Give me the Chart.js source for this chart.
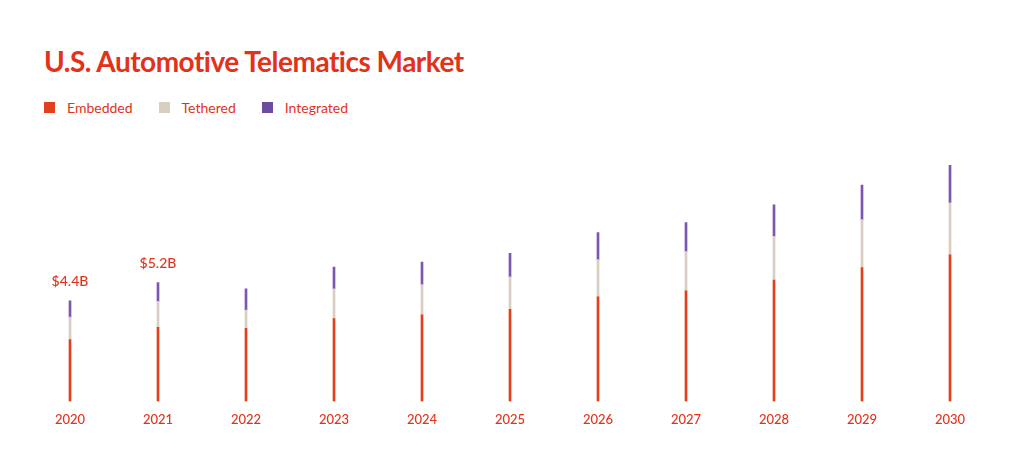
<!DOCTYPE html>
<html>
<head>
<meta charset="utf-8">
<script src="https://cdn.jsdelivr.net/npm/chart.js@4"></script>
<style>
  body { margin: 0; background: #fff; font-family: Lato, "Open Sans", sans-serif; }
  .title { position: absolute; left: 44px; top: 44px; margin: 0; font-size: 28px; font-weight: 700; color: #e2321a; letter-spacing: -0.5px; }
  .legend { position: absolute; left: 44px; top: 99px; display: flex; gap: 26px; font-size: 14px; color: #e2321a; }
  .legend span { display: flex; align-items: center; }
  .legend i { display: inline-block; width: 11px; height: 11px; margin-right: 12px; }
  .chart-container { position: absolute; left: 0; top: 100px; width: 1019px; height: 331px; }
</style>
</head>
<body>
<h1 class="title">U.S. Automotive Telematics Market</h1>
<div class="legend">
  <span><i style="background:#e2401c"></i>Embedded</span>
  <span><i style="background:#d8cfc2"></i>Tethered</span>
  <span><i style="background:#6d4b9e"></i>Integrated</span>
</div>
<div class="chart-container"><canvas id="barChart"></canvas></div>
<script>
const years = ['2020', '2021', '2022', '2023', '2024', '2025', '2026', '2027', '2028', '2029', '2030'];
const embedded = [2.71, 3.24, 3.2, 3.62, 3.79, 4.03, 4.57, 4.84, 5.31, 5.86, 6.41];
const tethered = [0.98, 1.14, 0.8, 1.31, 1.32, 1.42, 1.63, 1.72, 1.91, 2.09, 2.28];
const integrated = [0.71, 0.82, 0.93, 0.95, 0.99, 1.03, 1.19, 1.26, 1.38, 1.51, 1.64];
const totalLabels = ['$4.4B', '$5.2B'];

const totalLabelPlugin = {
    id: 'totalLabels',
    afterDatasetsDraw(chart) {
        const ctx = chart.ctx;
        const meta = chart.getDatasetMeta(2);
        ctx.save();
        ctx.fillStyle = '#e2321a';
        ctx.font = '500 14px Lato';
        ctx.textAlign = 'center';
        ctx.textBaseline = 'bottom';
        totalLabels.forEach(function (label, i) {
            const bar = meta.data[i];
            ctx.fillText(label, bar.x, bar.y - 12);
        });
        ctx.restore();
    }
};

const ctx = document.getElementById('barChart').getContext('2d');
const barChart = new Chart(ctx, {
    type: 'bar',
    data: {
        labels: years,
        datasets: [
            { label: 'Embedded', data: embedded, backgroundColor: '#e2401c' },
            { label: 'Tethered', data: tethered, backgroundColor: '#d8cfc2' },
            { label: 'Integrated', data: integrated, backgroundColor: '#7b58ad' },
        ]
    },
    options: {
        responsive: true,
        maintainAspectRatio: false,
        animation: false,
        barThickness: 2,
        layout: { padding: { left: 26, right: 25, top: 10 } },
        plugins: { legend: { display: false }, tooltip: { enabled: false } },
        scales: {
            x: {
                stacked: true,
                grid: { display: false },
                border: { display: false },
                ticks: { color: '#e2321a', font: { family: 'Lato', size: 13, weight: '500' }, padding: 3 }
            },
            y: {
                stacked: true,
                display: false,
                min: 0,
                max: 12.75
            }
        }
    },
    plugins: [totalLabelPlugin]
});
</script>
</body>
</html>
